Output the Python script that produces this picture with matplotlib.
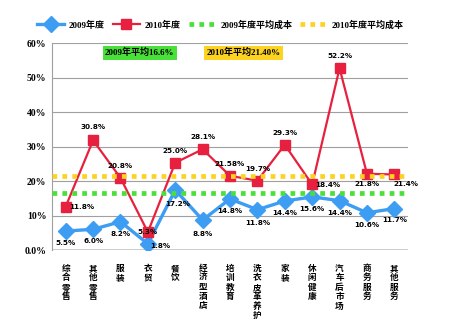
import numpy as np
import matplotlib
matplotlib.use('Agg')
import matplotlib.pyplot as plt

plt.rcParams['font.family'] = ['Liberation Serif', 'Noto Sans CJK SC', 'DejaVu Sans']

categories = ['综合零售', '其他零售', '服装', '衣贸', '餐饮', '经济型酒店', '培训教育',
              '洗衣皮革养护', '家装', '休闲健康', '汽车后市场', '商务服务', '其他服务']
cost_2009 = [5.5, 6.0, 8.2, 1.8, 17.4, 8.7, 14.8, 11.7, 14.2, 15.4, 14.3, 10.8, 12.0]
cost_2010 = [12.6, 31.8, 20.9, 5.2, 25.3, 29.2, 21.5, 20.1, 30.5, 19.0, 52.7, 22.1, 21.9]
labels_2009 = ['5.5%', '6.0%', '8.2%', '1.8%', '17.2%', '8.8%', '14.8%', '11.8%',
               '14.4%', '15.6%', '14.4%', '10.6%', '11.7%']
labels_2010 = ['11.8%', '30.8%', '20.8%', '5.3%', '25.0%', '28.1%', '21.58%', '19.7%',
               '29.3%', '18.4%', '52.2%', '21.8%', '21.4%']
avg_2009 = 16.6
avg_2010 = 21.4
yticks = [0, 10, 20, 30, 40, 50, 60]
ytick_labels = ['0.0%', '10%', '20%', '30%', '40%', '50%', '60%']

# label offsets in pixels (dx, dy)
off_2009 = [(0, -12), (0, -12), (0, -12), (12, -2), (2, -14), (0, -14), (0, -12),
            (0, -13), (0, -12), (0, -12), (0, -12), (0, -12), (0, -11)]
off_2010 = [(16, 0), (0, 13), (0, 12), (0, 0), (0, 12), (0, 12), (0, 12),
            (0, 12), (0, 12), (16, -1), (0, 12), (0, -10), (12, -10)]

blue = '#3d9df2'
red = '#e8203f'
green = '#4ae03a'
yellow = '#fdd321'

fig = plt.figure(figsize=(4.5, 3.33), dpi=100)
ax = fig.add_axes([0.1156, 0.2492, 0.7911, 0.6216])

x = np.arange(len(categories)) + 0.5

for y in yticks[1:]:
    ax.axhline(y, color='#a0a0a0', lw=0.8, zorder=0)
ax.axhline(0, color='#c8c8c8', lw=2, zorder=0)

l1, = ax.plot(x, cost_2009, color=blue, lw=2.4, marker='D', ms=8, zorder=3, label='2009年度')
l2, = ax.plot(x, cost_2010, color=red, lw=1.6, marker='s', ms=7, zorder=4, label='2010年度')
l3 = ax.axhline(avg_2009, color=green, lw=3.4, ls=(0, (1, 1.1)), zorder=5, label='2009年度平均成本')
l4 = ax.axhline(avg_2010, color=yellow, lw=3.4, ls=(0, (1, 1.1)), zorder=5, label='2010年度平均成本')

lab_font = ['Liberation Sans Narrow', 'DejaVu Sans']
for xi, v, t, (dx, dy) in zip(x, cost_2009, labels_2009, off_2009):
    ax.annotate(t, (xi, v), xytext=(dx * 0.72, dy * 0.72), textcoords='offset points',
                ha='center', va='center', fontsize=5.2, fontweight='bold', family=lab_font, zorder=6)
for xi, v, t, (dx, dy) in zip(x, cost_2010, labels_2010, off_2010):
    ax.annotate(t, (xi, v), xytext=(dx * 0.72, dy * 0.72), textcoords='offset points',
                ha='center', va='center', fontsize=5.2, fontweight='bold', family=lab_font, zorder=6)

ax.text(3.2, 57.2, '2009年平均16.6%', fontsize=6.5, fontweight='bold', ha='center', va='center',
        bbox=dict(boxstyle='square,pad=0.25', fc=green, ec='none'))
ax.text(7.0, 57.2, '2010年平均21.40%', fontsize=6.5, fontweight='bold', ha='center', va='center',
        bbox=dict(boxstyle='square,pad=0.25', fc=yellow, ec='none'))

ax.set_xlim(0, len(categories))
ax.set_ylim(0, 60)
ax.set_yticks(yticks)
ax.set_yticklabels(ytick_labels, fontsize=7, fontweight='bold')
ax.set_xticks(x)
ax.set_xticklabels(['\n'.join(c) for c in categories], fontsize=6.2, fontweight='bold',
                   linespacing=1.06, va='top', family=['Noto Sans CJK SC'])
ax.tick_params(length=0, pad=4)
ax.tick_params(axis='x', pad=10)
for s in ['top', 'right', 'bottom']:
    ax.spines[s].set_visible(False)
ax.spines['left'].set_color('#a0a0a0')
ax.spines['left'].set_linewidth(0.8)

fig.legend(handles=[l1, l2, l3, l4], loc='center', bbox_to_anchor=(0.49, 0.925), ncol=4,
           frameon=False, prop={'size': 6.5, 'weight': 'bold'}, handlelength=3.0,
           columnspacing=0.9, handletextpad=0.5)

fig.savefig('out.png', dpi=100)
